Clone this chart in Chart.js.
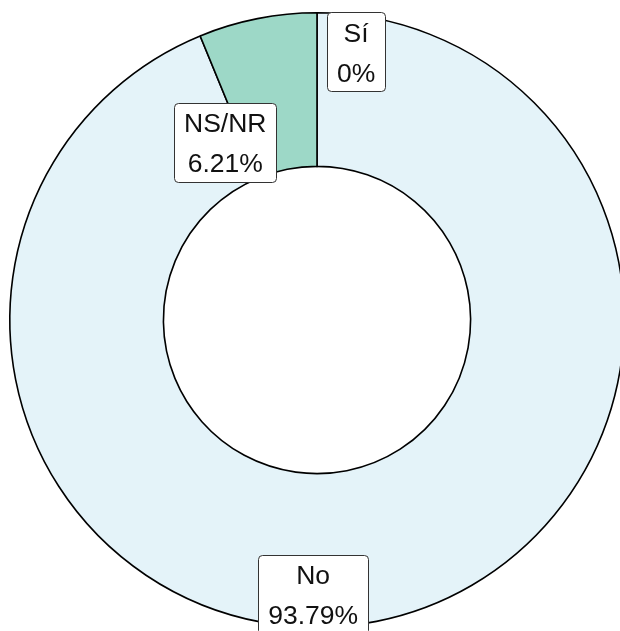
<!DOCTYPE html>
<html>
<head>
<meta charset="utf-8">
<script src="https://cdn.jsdelivr.net/npm/chart.js@4"></script>
<style>
  html, body { margin: 0; padding: 0; background: #fff; overflow: hidden; }
  #wrap { position: absolute; left: 0; top: 0; width: 640px; height: 640px; }
</style>
</head>
<body>
<div id="wrap"><canvas id="chart"></canvas></div>
<script>
// Datos (orden horario desde las 12)
const categories = ['No', 'NS/NR', 'Sí'];
const percentages = [93.79, 6.21, 0];
const percentLabels = ['93.79%', '6.21%', '0%'];
const sliceColors = ['#E4F3F9', '#9DD8C7', '#F2C9C9'];

// Posición de las etiquetas: ángulo (grados, horario desde arriba) y radio relativo
const labelAngles = [180.8, 332.7, 8.3];
const labelRadii = [0.893, 0.651, 0.882];

const labelFont = '26.5px "Liberation Sans", Arial, sans-serif';
const lineHeight = 40;

// Plugin para dibujar las etiquetas con caja
const boxLabels = {
    id: 'boxLabels',
    afterDatasetsDraw(chart) {
        const ctx = chart.ctx;
        const arcs = chart.getDatasetMeta(0).data;
        ctx.save();
        ctx.font = labelFont;
        arcs.forEach((arc, i) => {
            const { x, y, outerRadius } = arc.getProps(['x', 'y', 'outerRadius'], true);
            const a = labelAngles[i] * Math.PI / 180;
            const r = outerRadius * labelRadii[i];
            const cx = x + r * Math.sin(a);
            const cy = y - r * Math.cos(a);
            const lines = [categories[i], percentLabels[i]];
            const w = Math.max(...lines.map(t => ctx.measureText(t).width)) + 20;
            const h = lines.length * lineHeight - 1;
            ctx.beginPath();
            ctx.roundRect(Math.round(cx - w / 2) + 0.5, Math.round(cy - h / 2) + 0.5, Math.round(w), Math.round(h), 4);
            ctx.fillStyle = '#ffffff';
            ctx.fill();
            ctx.lineWidth = 1;
            ctx.strokeStyle = '#333333';
            ctx.stroke();
            ctx.fillStyle = '#111111';
            ctx.textAlign = 'center';
            ctx.textBaseline = 'middle';
            lines.forEach((t, k) => {
                ctx.fillText(t, cx, cy - h / 2 + lineHeight * (k + 0.5) + 2);
            });
        });
        ctx.restore();
    }
};

new Chart(document.getElementById('chart'), {
    type: 'doughnut',
    data: {
        labels: categories,
        datasets: [{
            data: percentages,
            backgroundColor: sliceColors,
            borderColor: '#000000',
            borderWidth: 1.6,
            borderJoinStyle: 'miter'
        }]
    },
    options: {
        responsive: true,
        maintainAspectRatio: false,
        animation: false,
        cutout: '50%',
        layout: { padding: { left: 9, top: 12, right: 15, bottom: 12 } },
        plugins: {
            legend: { display: false },
            tooltip: { enabled: false }
        }
    },
    plugins: [boxLabels]
});
</script>
</body>
</html>
